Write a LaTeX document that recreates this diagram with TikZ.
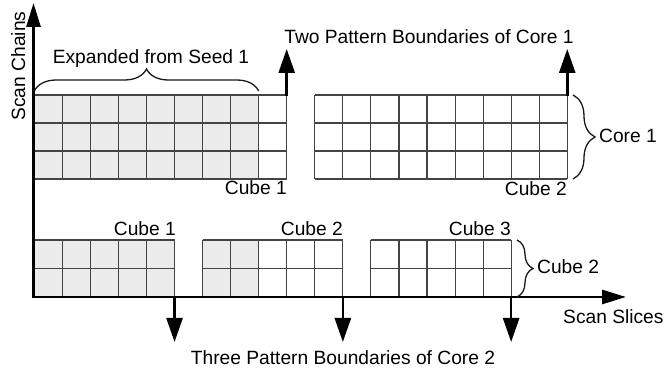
\documentclass[tikz,border=0pt]{standalone}
\usepackage{fontspec}
\setmainfont{Liberation Sans}
\usetikzlibrary{arrows.meta,decorations.pathreplacing}
\definecolor{cellfill}{HTML}{EBEBEB}
\definecolor{gridc}{HTML}{444444}
\newcommand\mygrid[5]{% left x, ncols, top y, nrows, row height
  \foreach \c in {0,...,#2}{\draw[cell] ({#1+\c*28.05},#3) -- ({#1+\c*28.05},{#3+#4*#5});}
  \foreach \r in {0,...,#4}{\draw[cell] (#1,{#3+\r*#5}) -- ({#1+#2*28.05},{#3+\r*#5});}
}
\begin{document}
\begin{tikzpicture}[x=1pt,y=-1pt,
  lbl/.style={font=\fontsize{19.2}{22}\selectfont, inner sep=0pt},
  cell/.style={draw=gridc, line width=1.1pt},
  axisline/.style={line width=2.8pt, {Triangle[length=24pt,width=14pt]}-{Triangle[length=24pt,width=14pt]}},
  bnd/.style={line width=2.6pt, -{Triangle[length=24pt,width=16pt]}},
  brc/.style={decorate, decoration={brace, amplitude=#1}, draw=black!90, line width=1.3pt}]
\useasboundingbox (0,0) rectangle (665,371);
% fills
\fill[cellfill] (34.3,95) rectangle (258.7,179);
\fill[cellfill] (34.3,240) rectangle (174.55,297);
\fill[cellfill] (202.6,240) rectangle (258.7,297);
% grids
\mygrid{34.3}{9}{95}{3}{28}
\mygrid{314.8}{9}{95}{3}{28}
\mygrid{34.3}{5}{240}{2}{28.5}
\mygrid{202.6}{5}{240}{2}{28.5}
\mygrid{370.9}{5}{240}{2}{28.5}
% axes
\coordinate (ytip) at (33.5,3);
\coordinate (xtip) at (626,297);
\draw[axisline] (ytip) |- (xtip);
% pattern boundaries of core 1
\coordinate (b1s) at (286.7,96);
\coordinate (b1e) at (286.7,49);
\coordinate (b2s) at (567.25,96);
\coordinate (b2e) at (567.25,49);
\draw[bnd] (b1s) -- (b1e);
\draw[bnd] (b2s) -- (b2e);
% pattern boundaries of core 2
\coordinate (c1s) at (174.55,297);
\coordinate (c1e) at (174.55,342);
\coordinate (c2s) at (342.85,297);
\coordinate (c2e) at (342.85,342);
\coordinate (c3s) at (511.15,297);
\coordinate (c3e) at (511.15,342);
\draw[bnd] (c1s) -- (c1e);
\draw[bnd] (c2s) -- (c2e);
\draw[bnd] (c3s) -- (c3e);
% braces
\coordinate (s1a) at (34.3,91);
\coordinate (s1b) at (258.7,91);
\draw[brc=22pt] (s1a) -- (s1b);
\coordinate (k1a) at (573,95);
\coordinate (k1b) at (573,179);
\draw[brc=22pt] (k1a) -- (k1b);
\coordinate (k2a) at (517,240);
\coordinate (k2b) at (517,297);
\draw[brc=16pt] (k2a) -- (k2b);
% labels
\node[lbl, rotate=90, anchor=base] (chains) at (25,66) {Scan Chains};
\node[lbl, anchor=base] (seed) at (151,64) {Expanded from Seed 1};
\node[lbl, anchor=base] (two) at (429,44) {Two Pattern Boundaries of Core 1};
\node[lbl, anchor=base east] (tc1) at (287,195) {Cube 1};
\node[lbl, anchor=base east] (tc2) at (567,196) {Cube 2};
\node[lbl, anchor=base west] (core1) at (599,143) {Core 1};
\node[lbl, anchor=base east] (bc1) at (176,236) {Cube 1};
\node[lbl, anchor=base east] (bc2) at (343,236) {Cube 2};
\node[lbl, anchor=base east] (bc3) at (511,236) {Cube 3};
\node[lbl, anchor=base west] (rc2) at (537,274) {Cube 2};
\node[lbl, anchor=base west] (slices) at (563,324) {Scan Slices};
\node[lbl, anchor=base] (three) at (343,365) {Three Pattern Boundaries of Core 2};
\end{tikzpicture}
\end{document}
